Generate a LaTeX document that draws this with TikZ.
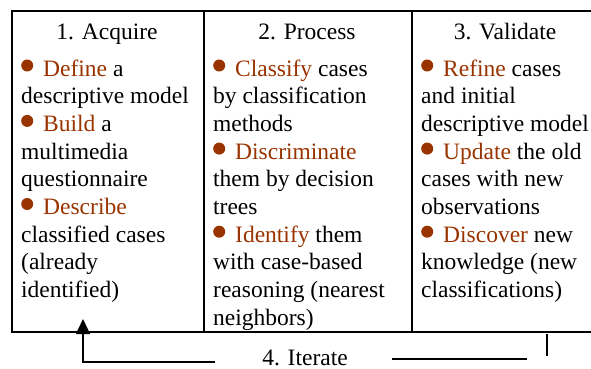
\documentclass[tikz,border=0pt]{standalone}
\usepackage{fontspec}
\setmainfont{Liberation Serif}
\usetikzlibrary{arrows.meta}

\definecolor{brn}{RGB}{153,51,0}
\newcommand{\bul}{\tikz[baseline]\fill[brn] (6pt,10.5pt) circle[radius=6pt];\hspace{10pt}}
\newcommand{\doit}[1]{\textcolor{brn}{#1}}

\begin{document}
\begin{tikzpicture}
        [x=1pt, y=-1pt, >={Triangle[width=14pt, length=15pt]},
         cell/.style={draw, line width=2pt, anchor=north west, minimum height=321pt, inner sep=0pt},
         head/.style={anchor=base, inner sep=0pt, font=\fontsize{23.5}{27.7}\selectfont},
         body/.style={anchor=base west, align=left, inner sep=0pt, font=\fontsize{23.5}{27.7}\selectfont}]

        \useasboundingbox (0,0) rectangle (591,369);
        \clip (0,0) rectangle (591,369);

        \node[cell, minimum width=192pt] (acq) at (11,10) {};
        \node[cell, minimum width=208pt] (proc) at (203,10) {};
        \node[cell, minimum width=200pt] (val) at (411,10) {};

        \node[head] (acq-t) at (107,40) {1. Acquire};
        \node[head] (proc-t) at (307,40) {2. Process};
        \node[head] (val-t) at (505,40) {3. Validate};

        % base west = baseline of the last line
        \node[body] (acq-b) at (21,297.6) {\bul\doit{Define} a\\descriptive model\\\bul\doit{Build} a\\multimedia\\questionnaire\\\bul\doit{Describe}\\classified cases\\(already\\identified)};
        \node[body] (proc-b) at (213,325.3) {\bul\doit{Classify} cases\\by classification\\methods\\\bul\doit{Discriminate}\\them by decision\\trees\\\bul\doit{Identify} them\\with case-based\\reasoning (nearest\\neighbors)};
        \node[body] (val-b) at (421,297.6) {\bul\doit{Refine} cases\\and initial\\descriptive model\\\bul\doit{Update} the old\\cases with new\\observations\\\bul\doit{Discover} new\\knowledge (new\\classifications)};

        \node[head] (iter) at (305,365.5) {4. Iterate};

        % loop back to step 1
        \coordinate (back-a) at (215,362);
        \coordinate (back-b) at (83,362);
        \coordinate (back-c) at (83,319);
        \draw[->, line width=1.4pt] (back-a) -- (back-b) -- (back-c);

        \coordinate (fwd-a) at (392,359);
        \coordinate (fwd-b) at (527,359);
        \draw[line width=1.4pt] (fwd-a) -- (fwd-b);

        \coordinate (tick-a) at (547,334);
        \coordinate (tick-b) at (547,356);
        \draw[line width=1.4pt] (tick-a) -- (tick-b);

    \end{tikzpicture}
\end{document}
